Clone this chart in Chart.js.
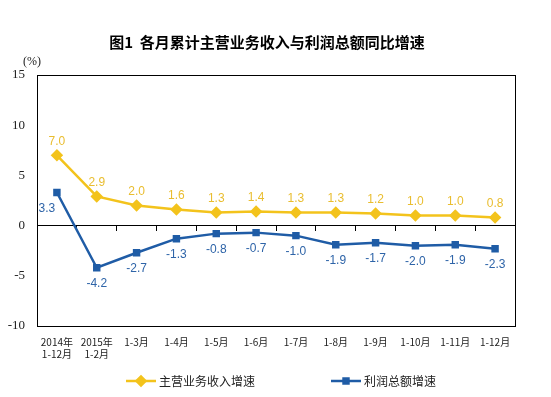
<!DOCTYPE html>
<html lang="zh">
<head>
  <meta charset="UTF-8">
  <title>各月累计主营业务收入与利润总额同比增速</title>
  <script src="https://cdn.jsdelivr.net/npm/chart.js"></script>
  <style>
    html, body { margin: 0; padding: 0; background: #fff; }
    #wrap { width: 551px; height: 397px; }
  </style>
</head>
<body>
  <div id="wrap"><canvas id="growthChart"></canvas></div>

  <script>
    const months = [
      ['2014年', '1-12月'], ['2015年', '1-2月'], '1-3月', '1-4月', '1-5月', '1-6月',
      '1-7月', '1-8月', '1-9月', '1-10月', '1-11月', '1-12月'
    ];
    const revenueGrowth = [7.0, 2.9, 2.0, 1.6, 1.3, 1.4, 1.3, 1.3, 1.2, 1.0, 1.0, 0.8];
    const profitGrowth = [3.3, -4.2, -2.7, -1.3, -0.8, -0.7, -1.0, -1.9, -1.7, -2.0, -1.9, -2.3];
    const yTicks = [-10, -5, 0, 5, 10, 15];

    const YELLOW = '#F3C31C';
    const BLUE = '#1F5CA6';
    const TITLE = '图1  各月累计主营业务收入与利润总额同比增速';

    // title, frame round the plot area, and the (%) unit label
    const framePlugin = {
      id: 'frame',
      afterDraw(chart) {
        const { ctx, chartArea: a } = chart;
        ctx.save();
        ctx.strokeStyle = '#000';
        ctx.lineWidth = 1;
        ctx.strokeRect(Math.round(a.left) + 0.5, Math.round(a.top) + 0.5,
          Math.round(a.right - a.left), Math.round(a.bottom - a.top));
        ctx.fillStyle = '#000';
        ctx.textAlign = 'center';
        ctx.textBaseline = 'middle';
        ctx.font = 'bold 15px "Noto Sans CJK SC"';
        ctx.fillText(TITLE, 267, 42);
        ctx.fillStyle = '#222';
        ctx.font = '12px "Liberation Serif"';
        ctx.fillText('(%)', 32, 62);
        ctx.restore();
      }
    };

    // value labels next to each point
    const valueLabels = {
      id: 'valueLabels',
      afterDatasetsDraw(chart) {
        const ctx = chart.ctx;
        ctx.save();
        ctx.font = '12px "Liberation Sans"';
        ctx.textAlign = 'center';
        ctx.textBaseline = 'middle';
        chart.data.datasets.forEach((ds, i) => {
          const meta = chart.getDatasetMeta(i);
          ctx.fillStyle = ds.labelColor;
          meta.data.forEach((pt, j) => {
            let dx = 0, dy = ds.labelBelow ? 16 : -14;
            if (ds.labelBelow && j === 0) dx = -10;
            ctx.fillText(ds.data[j].toFixed(1), pt.x + dx, pt.y + dy);
          });
        });
        ctx.restore();
      }
    };

    // legend: short line with marker, then the series name
    const lineLegend = {
      id: 'lineLegend',
      afterDraw(chart, args, opts) {
        const ctx = chart.ctx;
        ctx.save();
        chart.data.datasets.forEach((ds, i) => {
          const x = opts.xs[i], y = opts.y;
          ctx.strokeStyle = ds.borderColor;
          ctx.lineWidth = 2.5;
          ctx.beginPath();
          ctx.moveTo(x, y);
          ctx.lineTo(x + 30, y);
          ctx.stroke();
          ctx.fillStyle = ds.borderColor;
          ctx.strokeStyle = ds.borderColor;
          Chart.helpers.drawPoint(ctx, {
            pointStyle: ds.pointStyle, radius: ds.pointRadius, borderWidth: 1
          }, x + 15, y);
          ctx.fillStyle = '#222';
          ctx.font = '12px "Noto Sans CJK SC"';
          ctx.textBaseline = 'middle';
          ctx.fillText(ds.label, x + 33, y);
        });
        ctx.restore();
      }
    };

    new Chart(document.getElementById('growthChart'), {
      type: 'line',
      data: {
        labels: months,
        datasets: [
          {
            label: '主营业务收入增速',
            data: revenueGrowth,
            borderColor: YELLOW,
            backgroundColor: YELLOW,
            labelColor: '#E9BD2F',
            borderWidth: 2.5,
            pointStyle: 'rectRot',
            pointRadius: 4.5,
            pointHoverRadius: 4.5,
            tension: 0
          },
          {
            label: '利润总额增速',
            data: profitGrowth,
            borderColor: BLUE,
            backgroundColor: BLUE,
            labelColor: '#2E64A8',
            labelBelow: true,
            borderWidth: 2.5,
            pointStyle: 'rect',
            pointRadius: 3.5,
            pointHoverRadius: 3.5,
            tension: 0
          }
        ]
      },
      options: {
        responsive: true,
        maintainAspectRatio: false,
        animation: false,
        layout: { padding: { top: 75, right: 36, bottom: 0, left: 0 } },
        plugins: {
          legend: { display: false },
          tooltip: { enabled: false },
          lineLegend: { xs: [126, 331], y: 381 }
        },
        scales: {
          x: {
            type: 'category',
            offset: true,
            position: 'bottom',
            grid: { display: false, drawTicks: false },
            border: { display: false },
            ticks: {
              color: '#222',
              font: { family: '"Noto Sans CJK SC"', size: 10 },
              padding: 10,
              maxRotation: 0,
              autoSkip: false
            },
            afterFit(scale) { scale.height = 71; }
          },
          x0: {
            type: 'category',
            offset: true,
            position: { y: 0 },
            grid: { drawOnChartArea: false, offset: true, tickLength: 5, color: '#000' },
            border: { color: '#000', width: 1 },
            ticks: { display: false }
          },
          y: {
            min: -10,
            max: 15,
            afterBuildTicks(scale) { scale.ticks = yTicks.map(v => ({ value: v })); },
            grid: { display: false, drawTicks: false },
            border: { display: false },
            ticks: {
              color: '#222',
              font: { family: '"Liberation Serif"', size: 13 },
              padding: 12
            },
            afterFit(scale) { scale.width = 37; }
          }
        }
      },
      plugins: [framePlugin, valueLabels, lineLegend]
    });
  </script>
</body>
</html>
